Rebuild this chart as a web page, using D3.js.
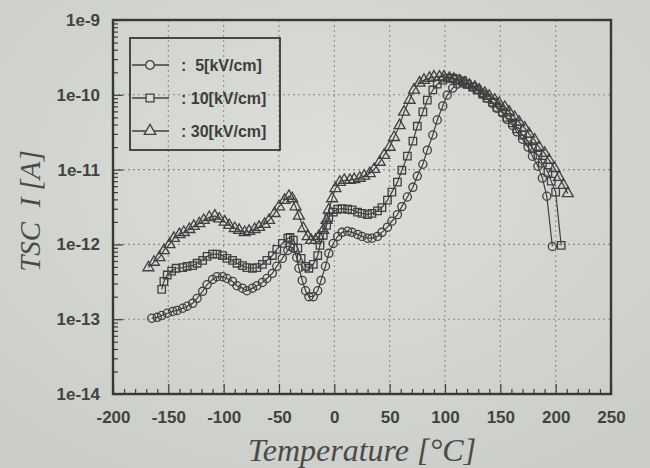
<!DOCTYPE html>
<html>
<head>
<meta charset="utf-8">
<script src="https://cdn.jsdelivr.net/npm/d3@7/dist/d3.min.js"></script>
<style>
  body { margin: 0; background: #d6d9d4; }
  svg { display: block; }
  .tick text { font: bold 17px "Liberation Sans", Arial, sans-serif; fill: #424242; }
  .tick line { stroke: #3d3d3d; stroke-width: 1.2; }
</style>
</head>
<body>
<div id="chart"></div>
<script>
// TSC current vs temperature, three poling fields
var tempTicks = [-200, -150, -100, -50, 0, 50, 100, 150, 200, 250];
var currentTicks = [1e-14, 1e-13, 1e-12, 1e-11, 1e-10, 1e-9];
var currentLabels = ["1e-14", "1e-13", "1e-12", "1e-11", "1e-10", "1e-9"];
var seriesNames = [":  5[kV/cm]", ": 10[kV/cm]", ": 30[kV/cm]"];

// 5 kV/cm (circles)
var t5 = [-165, -160, -156, -151, -146, -142, -137, -133, -128, -124, -119, -115, -110, -106, -101, -97, -92, -88, -83, -79,
  -74, -70, -65, -61, -56, -52, -47, -42, -40, -37, -34, -32, -29, -26, -23, -19, -15, -12, -8, -5,
  -1, 3, 7, 12, 16, 21, 25, 30, 34, 39, 43, 48, 52, 57, 61, 66, 71, 75, 80, 84,
  89, 93, 98, 102, 107, 111, 116, 120, 125, 129, 134, 138, 143, 147, 152, 156, 161, 165, 170, 175,
  179, 184, 188, 192, 197];
var i5 = [1.03e-13, 1.06e-13, 1.12e-13, 1.2e-13, 1.27e-13, 1.31e-13, 1.4e-13, 1.49e-13, 1.63e-13, 1.9e-13, 2.36e-13, 2.9e-13, 3.4e-13, 3.7e-13, 3.7e-13, 3.5e-13, 3.2e-13, 2.8e-13, 2.6e-13, 2.4e-13,
  2.6e-13, 2.8e-13, 3.1e-13, 3.5e-13, 4.1e-13, 5.1e-13, 6.5e-13, 8.3e-13, 9.4e-13, 8.9e-13, 6.7e-13, 4.8e-13, 3.3e-13, 2.4e-13, 2.0e-13, 2.0e-13, 2.4e-13, 3.3e-13, 5.1e-13, 7.6e-13,
  1.03e-12, 1.28e-12, 1.45e-12, 1.5e-12, 1.45e-12, 1.36e-12, 1.28e-12, 1.21e-12, 1.21e-12, 1.28e-12, 1.45e-12, 1.7e-12, 2.04e-12, 2.5e-12, 3.2e-12, 4.3e-12, 5.8e-12, 8.2e-12, 1.18e-11, 1.82e-11,
  2.9e-11, 4.6e-11, 7.1e-11, 9.9e-11, 1.23e-10, 1.39e-10, 1.44e-10, 1.39e-10, 1.27e-10, 1.16e-10, 1.02e-10, 9.0e-11, 7.7e-11, 6.6e-11, 5.7e-11, 4.7e-11, 3.9e-11, 3.2e-11, 2.55e-11, 2.0e-11,
  1.51e-11, 1.11e-11, 7.7e-12, 4.4e-12, 9.4e-13];

// 10 kV/cm (squares)
var t10 = [-156, -154, -151, -147, -143, -137, -133, -128, -124, -119, -115, -110, -106, -101, -97, -92, -88, -83, -79, -74,
  -70, -65, -61, -56, -52, -47, -42, -40, -37, -33, -30, -26, -23, -19, -15, -13, -10, -7, -5, -1,
  3, 7, 12, 16, 21, 25, 30, 34, 39, 43, 48, 52, 57, 61, 66, 71, 75, 80, 84, 89,
  93, 98, 102, 107, 111, 116, 120, 125, 129, 134, 138, 143, 147, 152, 156, 161, 165, 170, 175, 179,
  184, 188, 193, 196, 200, 205];
var i10 = [2.5e-13, 3.2e-13, 3.9e-13, 4.4e-13, 4.8e-13, 4.9e-13, 5.1e-13, 5.2e-13, 5.6e-13, 6.1e-13, 6.9e-13, 7.4e-13, 7.4e-13, 7.1e-13, 6.5e-13, 6.1e-13, 5.6e-13, 5.2e-13, 4.9e-13, 4.8e-13,
  4.9e-13, 5.4e-13, 6.1e-13, 7.1e-13, 8.6e-13, 1.03e-12, 1.21e-12, 1.24e-12, 1.14e-12, 8.9e-13, 6.5e-13, 5.1e-13, 4.8e-13, 5.4e-13, 7.1e-13, 9.7e-13, 1.32e-12, 1.8e-12, 2.3e-12, 2.7e-12,
  2.95e-12, 3.0e-12, 2.95e-12, 2.9e-12, 2.7e-12, 2.6e-12, 2.5e-12, 2.6e-12, 2.8e-12, 3.1e-12, 3.9e-12, 5.0e-12, 6.8e-12, 9.8e-12, 1.51e-11, 2.4e-11, 3.8e-11, 5.9e-11, 8.5e-11, 1.16e-10,
  1.39e-10, 1.57e-10, 1.67e-10, 1.67e-10, 1.62e-10, 1.53e-10, 1.39e-10, 1.27e-10, 1.16e-10, 1.02e-10, 9.0e-11, 8.0e-11, 6.8e-11, 5.9e-11, 5.0e-11, 4.2e-11, 3.5e-11, 2.9e-11, 2.4e-11, 1.93e-11,
  1.56e-11, 1.22e-11, 9.2e-12, 7.0e-12, 5.0e-12, 9.7e-13];

// 30 kV/cm (triangles)
var t30 = [-168, -163, -158, -154, -149, -145, -140, -136, -131, -127, -122, -118, -113, -108, -104, -99, -95, -90, -86, -81,
  -77, -72, -68, -63, -59, -54, -50, -45, -41, -38, -35, -32, -28, -24, -21, -17, -14, -10, -7, -5,
  -2, 1, 5, 9, 14, 18, 23, 27, 32, 36, 41, 45, 50, 54, 59, 63, 68, 72, 77, 81,
  86, 90, 95, 99, 104, 108, 113, 118, 122, 127, 131, 136, 140, 145, 149, 154, 158, 163, 167, 172,
  176, 181, 185, 190, 194, 199, 203, 207, 211];
var i30 = [4.9e-13, 5.8e-13, 6.7e-13, 8.3e-13, 1.0e-12, 1.21e-12, 1.36e-12, 1.45e-12, 1.59e-12, 1.75e-12, 1.9e-12, 2.1e-12, 2.3e-12, 2.4e-12, 2.2e-12, 2.0e-12, 1.8e-12, 1.64e-12, 1.55e-12, 1.45e-12,
  1.5e-12, 1.59e-12, 1.7e-12, 1.86e-12, 2.1e-12, 2.6e-12, 3.2e-12, 3.9e-12, 4.4e-12, 4.1e-12, 3.2e-12, 2.4e-12, 1.64e-12, 1.28e-12, 1.14e-12, 1.14e-12, 1.28e-12, 1.55e-12, 2.1e-12, 2.9e-12,
  4.1e-12, 5.6e-12, 6.8e-12, 7.2e-12, 7.2e-12, 7.4e-12, 7.7e-12, 8.2e-12, 8.9e-12, 1.01e-11, 1.26e-11, 1.56e-11, 2.0e-11, 2.7e-11, 3.9e-11, 5.9e-11, 8.5e-11, 1.16e-10, 1.44e-10, 1.57e-10,
  1.67e-10, 1.73e-10, 1.73e-10, 1.73e-10, 1.67e-10, 1.62e-10, 1.53e-10, 1.44e-10, 1.35e-10, 1.27e-10, 1.16e-10, 1.05e-10, 9.6e-11, 8.5e-11, 7.7e-11, 6.8e-11, 5.9e-11, 5.0e-11, 4.3e-11, 3.6e-11,
  3.0e-11, 2.5e-11, 2.0e-11, 1.66e-11, 1.34e-11, 1.04e-11, 7.9e-12, 6.2e-12, 4.8e-12];

var width = 650, height = 468;
var plotLeft = 113, plotRight = 611, plotTop = 20, plotBottom = 394;
var ink = "#404040";

var svg = d3.select("#chart").append("svg")
  .attr("width", width)
  .attr("height", height);

// slightly uneven paper tone like the photo
var grad = svg.append("defs").append("radialGradient")
  .attr("id", "paper").attr("cx", "50%").attr("cy", "38%").attr("r", "75%");
grad.append("stop").attr("offset", "0%").attr("stop-color", "#dcdfda");
grad.append("stop").attr("offset", "100%").attr("stop-color", "#c9ccc7");
svg.append("rect").attr("width", width).attr("height", height).attr("fill", "url(#paper)");

var x = d3.scaleLinear().domain([-200, 250]).range([plotLeft, plotRight]);
var y = d3.scaleLog().domain([1e-14, 1e-9]).range([plotBottom, plotTop]);

// dotted grid
var grid = svg.append("g").attr("stroke", "#8a8d89").attr("stroke-width", 1.1).attr("stroke-dasharray", "2,3");
grid.selectAll(".gx").data(tempTicks.slice(1, -1)).enter().append("line")
  .attr("x1", function (d) { return x(d); }).attr("x2", function (d) { return x(d); })
  .attr("y1", plotTop).attr("y2", plotBottom);
grid.selectAll(".gy").data(currentTicks.slice(1, -1)).enter().append("line")
  .attr("x1", plotLeft).attr("x2", plotRight)
  .attr("y1", function (d) { return y(d); }).attr("y2", function (d) { return y(d); });

// minor ticks
var minorY = [];
for (var e = -14; e < -9; e++) {
  for (var m = 2; m <= 9; m++) minorY.push(m * Math.pow(10, e));
}
var minorX = d3.range(-190, 250, 10).filter(function (d) { return d % 50 !== 0; });

svg.append("g").attr("transform", "translate(" + plotLeft + ",0)")
  .call(d3.axisLeft(y).tickValues(minorY).tickSizeInner(-5).tickSizeOuter(0).tickFormat(""))
  .call(function (g) { g.select(".domain").remove(); });
svg.append("g").attr("transform", "translate(0," + plotBottom + ")")
  .call(d3.axisBottom(x).tickValues(minorX).tickSizeInner(-5).tickSizeOuter(0).tickFormat(""))
  .call(function (g) { g.select(".domain").remove(); });

// major ticks + labels
svg.append("g").attr("transform", "translate(" + plotLeft + ",0)")
  .call(d3.axisLeft(y).tickValues(currentTicks).tickSizeInner(-10).tickSizeOuter(0).tickPadding(13)
    .tickFormat(function (d, i) { return currentLabels[i]; }))
  .call(function (g) { g.select(".domain").remove(); });
svg.append("g").attr("transform", "translate(0," + plotBottom + ")")
  .call(d3.axisBottom(x).tickValues(tempTicks).tickSizeInner(-10).tickSizeOuter(0).tickPadding(17)
    .tickFormat(function (d) { return String(d); }))
  .call(function (g) { g.select(".domain").remove(); });

// frame
svg.append("rect")
  .attr("x", plotLeft).attr("y", plotTop)
  .attr("width", plotRight - plotLeft).attr("height", plotBottom - plotTop)
  .attr("fill", "none").attr("stroke", "#383838").attr("stroke-width", 2.4);

// data
var series = [
  { t: t5, v: i5, sym: d3.symbolCircle, size: 52 },
  { t: t10, v: i10, sym: d3.symbolSquare, size: 56 },
  { t: t30, v: i30, sym: d3.symbolTriangle, size: 52 }
];

var line = d3.line()
  .x(function (d) { return x(d[0]); })
  .y(function (d) { return y(d[1]); });

series.forEach(function (s) {
  var pts = s.t.map(function (t, k) { return [t, s.v[k]]; });
  var g = svg.append("g");
  g.append("path")
    .attr("d", line(pts))
    .attr("fill", "none").attr("stroke", ink).attr("stroke-width", 1.2);
  g.selectAll("path.mk").data(pts).enter().append("path")
    .attr("class", "mk")
    .attr("transform", function (d) { return "translate(" + x(d[0]) + "," + y(d[1]) + ")"; })
    .attr("d", d3.symbol().type(s.sym).size(s.size))
    .attr("fill", "none").attr("stroke", ink).attr("stroke-width", 1.3);
});

// legend
var legend = svg.append("g");
legend.append("rect")
  .attr("x", 130).attr("y", 38).attr("width", 150).attr("height", 112)
  .attr("fill", "none").attr("stroke", "#383838").attr("stroke-width", 1.8);
var rows = [65, 98, 131];
series.forEach(function (s, k) {
  legend.append("line")
    .attr("x1", 132).attr("x2", 169).attr("y1", rows[k]).attr("y2", rows[k])
    .attr("stroke", ink).attr("stroke-width", 1.3);
  legend.append("path")
    .attr("transform", "translate(150," + rows[k] + ")")
    .attr("d", d3.symbol().type(s.sym).size(s.size + 6))
    .attr("fill", "#d9dcd7").attr("stroke", ink).attr("stroke-width", 1.3);
  legend.append("text")
    .attr("x", 181).attr("y", rows[k]).attr("dy", "0.36em")
    .attr("font-family", "'Liberation Sans', Arial, sans-serif")
    .attr("font-weight", "bold").attr("font-size", 16).attr("fill", "#3d3d3d")
    .style("white-space", "pre")
    .text(seriesNames[k]);
});

// axis titles
svg.append("text")
  .attr("transform", "translate(40," + ((plotTop + plotBottom) / 2 + 4) + ") rotate(-90)")
  .attr("text-anchor", "middle")
  .attr("font-family", "'Liberation Serif', 'DejaVu Serif', serif")
  .attr("font-style", "italic").attr("font-size", 29).attr("fill", "#4a4a4a")
  .style("white-space", "pre")
  .text("TSC  I [A]");

svg.append("text")
  .attr("x", (plotLeft + plotRight) / 2).attr("y", 461)
  .attr("text-anchor", "middle")
  .attr("font-family", "'Liberation Serif', 'DejaVu Serif', serif")
  .attr("font-style", "italic").attr("font-size", 32).attr("fill", "#4a4a4a")
  .text("Temperature [\u00B0C]");
</script>
</body>
</html>
